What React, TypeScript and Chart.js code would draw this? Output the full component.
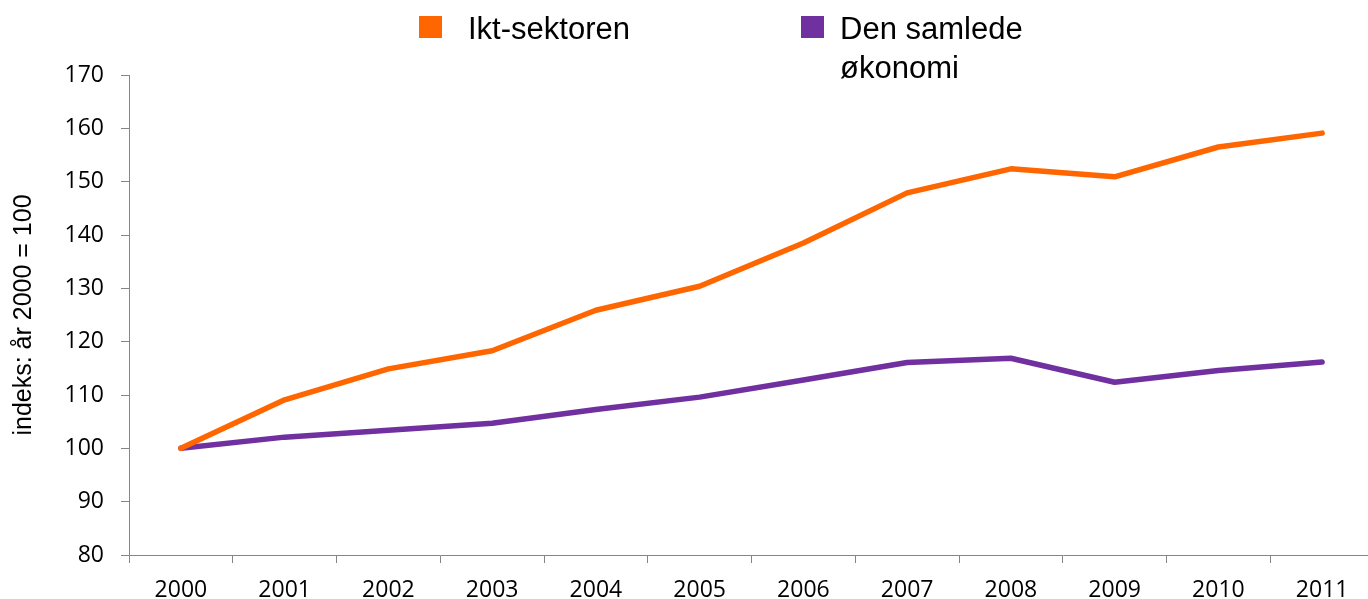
import React, { useEffect, useRef } from "react";
import { Chart, registerables } from "chart.js";

Chart.register(...registerables);

const YEARS = ["2000", "2001", "2002", "2003", "2004", "2005", "2006", "2007", "2008", "2009", "2010", "2011"];
const IKT_SEKTOREN = [100, 109.1, 114.9, 118.3, 125.9, 130.4, 138.5, 147.9, 152.4, 150.9, 156.5, 159.1];
const SAMLEDE_OKONOMI = [100, 102.1, 103.4, 104.7, 107.3, 109.6, 112.8, 116.1, 116.9, 112.4, 114.6, 116.2];
const SERIES_LABELS = ["Ikt-sektoren", "Den samlede økonomi"];
const LEGEND_LINES = [["Ikt-sektoren"], ["Den samlede", "økonomi"]];
const SERIES_COLORS = ["#FF6600", "#7030A0"];
const Y_TITLE = "indeks: år 2000 = 100";
const Y_MIN = 80;
const Y_MAX = 170;
const Y_STEP = 10;

const AXIS_COLOR = "#868686";

const legendPlugin = {
  id: "customLegend",
  afterDraw(chart: any) {
    const ctx = chart.ctx;
    const slots = [
      { boxX: 419, textX: 468 },
      { boxX: 801, textX: 840 },
    ];
    ctx.save();
    ctx.font = '31px "Liberation Sans", Arial, sans-serif';
    ctx.textBaseline = "alphabetic";
    ctx.textAlign = "left";
    LEGEND_LINES.forEach((lines, i) => {
      const s = slots[i];
      ctx.fillStyle = SERIES_COLORS[i];
      ctx.fillRect(s.boxX, 16, 23, 22);
      ctx.fillStyle = "#000000";
      lines.forEach((line, j) => {
        ctx.fillText(line, s.textX, 39 + j * 39);
      });
    });
    ctx.restore();
  },
};

export default function App() {
  const canvasRef = useRef<HTMLCanvasElement | null>(null);

  useEffect(() => {
    if (!canvasRef.current) return;
    const chart = new Chart(canvasRef.current, {
      type: "line",
      data: {
        labels: YEARS,
        datasets: [
          {
            label: SERIES_LABELS[0],
            data: IKT_SEKTOREN,
            borderColor: SERIES_COLORS[0],
            backgroundColor: SERIES_COLORS[0],
            borderWidth: 5.5,
            pointRadius: 0,
            borderCapStyle: "round",
            borderJoinStyle: "round",
            tension: 0,
          },
          {
            label: SERIES_LABELS[1],
            data: SAMLEDE_OKONOMI,
            borderColor: SERIES_COLORS[1],
            backgroundColor: SERIES_COLORS[1],
            borderWidth: 5.5,
            pointRadius: 0,
            borderCapStyle: "round",
            borderJoinStyle: "round",
            tension: 0,
          },
        ],
      },
      options: {
        responsive: false,
        animation: false,
        devicePixelRatio: 1,
        layout: { padding: { top: 75, left: 0, right: 0, bottom: 0 } },
        plugins: {
          legend: { display: false },
          tooltip: { enabled: false },
        },
        scales: {
          x: {
            type: "category",
            offset: true,
            grid: {
              offset: true,
              drawOnChartArea: false,
              drawTicks: true,
              tickLength: 8,
              color: AXIS_COLOR,
              lineWidth: 1,
            },
            border: { display: true, color: AXIS_COLOR, width: 1 },
            ticks: {
              color: "#000000",
              padding: 14,
              maxRotation: 0,
              autoSkip: false,
              font: { family: '"Open Sans", sans-serif', size: 23 },
            },
            afterFit: (scale: any) => {
              scale.height = 44;
            },
          },
          y: {
            min: Y_MIN,
            max: Y_MAX,
            ticks: {
              stepSize: Y_STEP,
              color: "#000000",
              padding: 17,
              font: { family: '"Open Sans", sans-serif', size: 23 },
            },
            grid: {
              drawOnChartArea: false,
              drawTicks: true,
              tickLength: 8,
              color: AXIS_COLOR,
              lineWidth: 1,
            },
            border: { display: true, color: AXIS_COLOR, width: 1 },
            title: {
              display: true,
              text: Y_TITLE,
              color: "#000000",
              padding: { top: 9, bottom: 0 },
              font: { family: '"Liberation Sans", Arial, sans-serif', size: 25 },
            },
            afterFit: (scale: any) => {
              scale.width = 129;
            },
          },
        },
      },
      plugins: [legendPlugin],
    } as any);
    return () => chart.destroy();
  }, []);

  return (
    <div
      style={{
        position: "absolute",
        left: 0,
        top: 0,
        width: 1368,
        height: 599,
        overflow: "hidden",
        background: "#ffffff",
      }}
    >
      <canvas ref={canvasRef} width={1374} height={599} style={{ display: "block" }} />
    </div>
  );
}
